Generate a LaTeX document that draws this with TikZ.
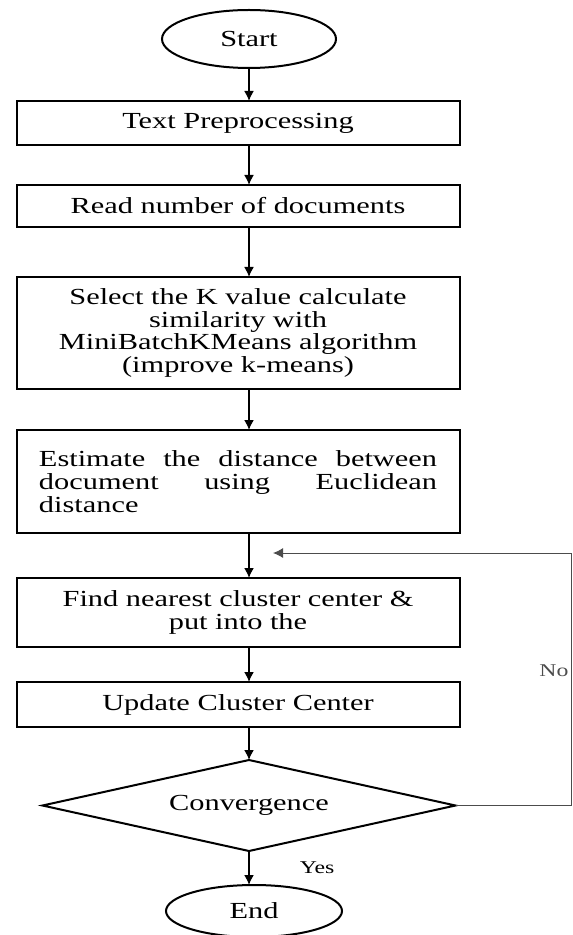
\documentclass[tikz,border=0pt]{standalone}
\usepackage{fontspec}
\setmainfont{Liberation Serif}[FakeStretch=1.32]
\usetikzlibrary{positioning,shapes.geometric,arrows.meta}

\hyphenpenalty=10000
\tolerance=9999

\tikzset{
  terminal/.style={ellipse, draw, line width=1pt, inner sep=1pt, outer sep=0pt},
  process/.style={rectangle, draw, line width=1pt, minimum width=221.5pt, align=center,
    inner sep=2pt, outer sep=0pt},
  decision/.style={diamond, draw, line width=1pt, aspect=4.5, inner sep=1pt, outer sep=0pt,
    minimum width=206.5pt, minimum height=45.5pt},
  flow/.style={-{Latex[length=5pt,width=5pt]}, line width=0.8pt},
  loopback/.style={-{Latex[length=5pt,width=5pt]}, line width=0.5pt, black!70},
  lbl/.style={inner sep=1pt, font=\fontsize{9}{9}\selectfont},
}

\begin{document}
\begin{tikzpicture}[x=0.5pt, y=-0.5pt, font=\fontsize{11.5}{11.4}\selectfont]
\useasboundingbox (0,0) rectangle (572,935);

% main column
\node[terminal, minimum width=87pt, minimum height=29pt] (start) at (249,39) {Start};
\node[process, minimum height=22pt, below=16.5pt of start, xshift=-5.5pt] (prep) {Text Preprocessing};
\node[process, minimum height=21pt, below=20pt of prep] (read) {Read number of documents};
\node[process, minimum height=56pt, below=25pt of read] (kval)
  {Select the K value calculate\\similarity with\\MiniBatchKMeans algorithm\\(improve k-means)};
\node[process, minimum height=51.5pt, below=20.5pt of kval, text width=199pt, align=justify] (dist)
  {Estimate the distance between document using Euclidean distance};
\node[process, minimum height=34.5pt, below=22.5pt of dist] (near) {Find nearest cluster center \&\\put into the};
\node[process, minimum height=22.5pt, below=17.5pt of near] (upd) {Update Cluster Center};
\node[decision, below=16.5pt of upd, xshift=5.5pt] (conv) {Convergence};
\node[terminal, minimum width=88pt, minimum height=26pt, below=17pt of conv, xshift=2.5pt] (stop) {End};

\draw[flow] (start) -- (start |- prep.north);
\draw[flow] (prep.south -| start) -- (read.north -| start);
\draw[flow] (read.south -| start) -- (kval.north -| start);
\draw[flow] (kval.south -| start) -- (dist.north -| start);
\draw[flow] (dist.south -| start) -- (near.north -| start);
\draw[flow] (near.south -| start) -- (upd.north -| start);
\draw[flow] (upd.south -| start) -- (conv.north);
\draw[flow] (conv.south) -- (conv.south |- stop.north) node[midway, right=24pt, lbl] {Yes};

% back to the assignment step
\coordinate (corner) at (571,553);
\coordinate (back) at (273,553);
\draw[loopback] (conv.east) -| node[pos=0.767, left, lbl] {No} (corner) -- (back);

\end{tikzpicture}
\end{document}
